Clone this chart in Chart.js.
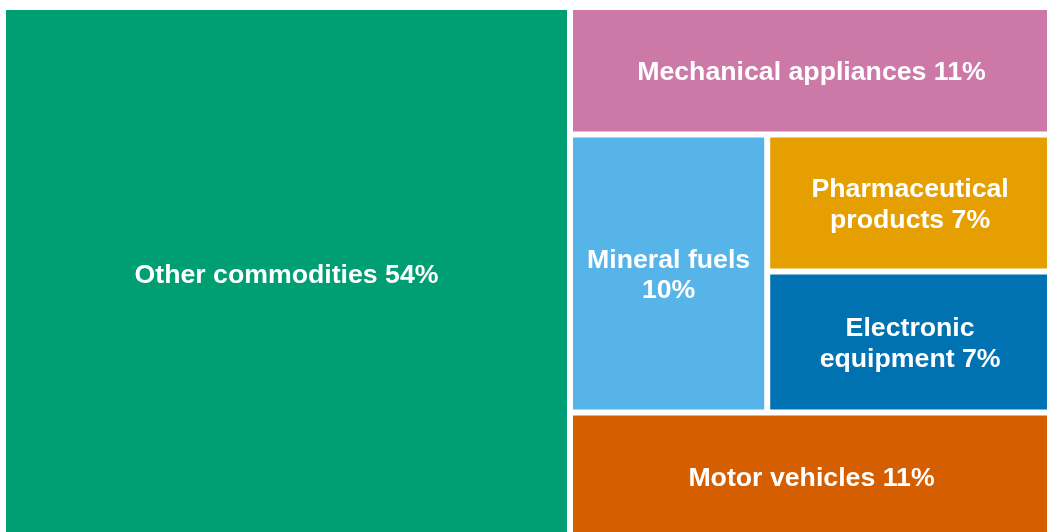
<!DOCTYPE html>
<html>
<head>
<meta charset="utf-8">
<script src="https://cdn.jsdelivr.net/npm/chart.js@4/dist/chart.umd.min.js"></script>
<style>
  html, body { margin: 0; padding: 0; background: #ffffff; overflow: hidden; }
  #wrap { position: absolute; left: 0; top: 0; width: 1053px; height: 540px; }
</style>
</head>
<body>
<div id="wrap"><canvas id="c"></canvas></div>
<script>
// ---- data ----
const categories = ['Other commodities', 'Mechanical appliances', 'Motor vehicles', 'Mineral fuels', 'Pharmaceutical products', 'Electronic equipment'];
const shares = [54.0, 11.0, 11.0, 9.8, 7.0, 7.2];
const colours = ['#009E73', '#CC79A7', '#D55E00', '#56B4E9', '#E69F00', '#0072B2'];
// nesting of the tiles: 'x' splits across, 'y' splits down (indices into the arrays above)
const arrangement = ['x', 0, ['y', 1, ['x', 3, ['y', 4, 5]], 2]];

function nodeSum(node, vals) {
  if (typeof node === 'number') return vals[node];
  let s = 0;
  for (let i = 1; i < node.length; i++) s += nodeSum(node[i], vals);
  return s;
}
function layoutNode(node, vals, x0, y0, x1, y1, out) {
  if (typeof node === 'number') { out[node] = {x0, y0, x1, y1}; return; }
  const dir = node[0];
  const total = nodeSum(node, vals);
  let pos = dir === 'x' ? x0 : y0;
  const span = dir === 'x' ? (x1 - x0) : (y1 - y0);
  for (let i = 1; i < node.length; i++) {
    const part = span * nodeSum(node[i], vals) / total;
    if (dir === 'x') layoutNode(node[i], vals, pos, y0, pos + part, y1, out);
    else layoutNode(node[i], vals, x0, pos, x1, pos + part, out);
    pos += part;
  }
}

class TreemapController extends Chart.DatasetController {
  static id = 'treemap';
  static defaults = { datasetElementType: false, dataElementType: 'bar' };
  update(mode) {
    const meta = this._cachedMeta;
    this.updateElements(meta.data, 0, meta.data.length, mode);
  }
  updateElements(rects, start, count, mode) {
    const meta = this._cachedMeta;
    const xs = meta.xScale, ys = meta.yScale;
    const ds = this.getDataset();
    const cells = [];
    layoutNode(ds.arrangement, ds.data, xs.min, ys.min, xs.max, ys.max, cells);
    for (let i = start; i < start + count; i++) {
      const c = cells[i];
      const l = xs.getPixelForValue(c.x0), r = xs.getPixelForValue(c.x1);
      const t = ys.getPixelForValue(c.y0), b = ys.getPixelForValue(c.y1);
      const props = {
        x: (l + r) / 2,
        y: Math.min(t, b),
        base: Math.max(t, b),
        width: Math.abs(r - l),
        height: Math.abs(b - t),
        horizontal: false,
        borderSkipped: {},
        inflateAmount: 0,
        options: this.resolveDataElementOptions(i, mode)
      };
      this.updateElement(rects[i], i, props, mode);
    }
  }
}
Chart.register(TreemapController);

const FONT_SIZE = 26.7;
const LINE_H = 30.5;
const PAD = 10;
const labelPlugin = {
  id: 'tileLabels',
  afterDatasetsDraw(chart) {
    const ctx = chart.ctx;
    const meta = chart.getDatasetMeta(0);
    const ds = chart.data.datasets[0];
    ctx.save();
    ctx.font = 'bold ' + FONT_SIZE + 'px Arial, "Liberation Sans", sans-serif';
    ctx.fillStyle = '#ffffff';
    ctx.textAlign = 'center';
    ctx.textBaseline = 'alphabetic';
    meta.data.forEach((el, i) => {
      const text = chart.data.labels[i] + ' ' + Math.round(ds.data[i]) + '%';
      const maxW = el.width - 2 * ds.borderWidth - 2 * PAD;
      const words = text.split(' ');
      const lines = [];
      let cur = '';
      words.forEach(w => {
        const test = cur ? cur + ' ' + w : w;
        if (cur && ctx.measureText(test).width > maxW) { lines.push(cur); cur = w; }
        else cur = test;
      });
      if (cur) lines.push(cur);
      const cx = el.x;
      const cy = (el.y + el.base) / 2;
      const capH = 0.716 * FONT_SIZE;
      lines.forEach((ln, k) => {
        const by = cy + capH / 2 + (k - (lines.length - 1) / 2) * LINE_H;
        ctx.fillText(ln, cx, by);
      });
    });
    ctx.restore();
  }
};

new Chart(document.getElementById('c'), {
  type: 'treemap',
  data: {
    labels: categories,
    datasets: [{
      data: shares,
      arrangement: arrangement,
      backgroundColor: colours,
      borderColor: '#ffffff',
      borderWidth: 3
    }]
  },
  options: {
    responsive: true,
    maintainAspectRatio: false,
    animation: false,
    parsing: false,
    layout: { padding: { left: 3, top: 7, right: 0, bottom: 0 } },
    scales: {
      x: { type: 'linear', min: 0, max: 100, display: false },
      y: { type: 'linear', min: 0, max: 100, reverse: true, display: false }
    },
    plugins: { legend: { display: false }, tooltip: { enabled: false } }
  },
  plugins: [labelPlugin]
});
</script>
</body>
</html>
